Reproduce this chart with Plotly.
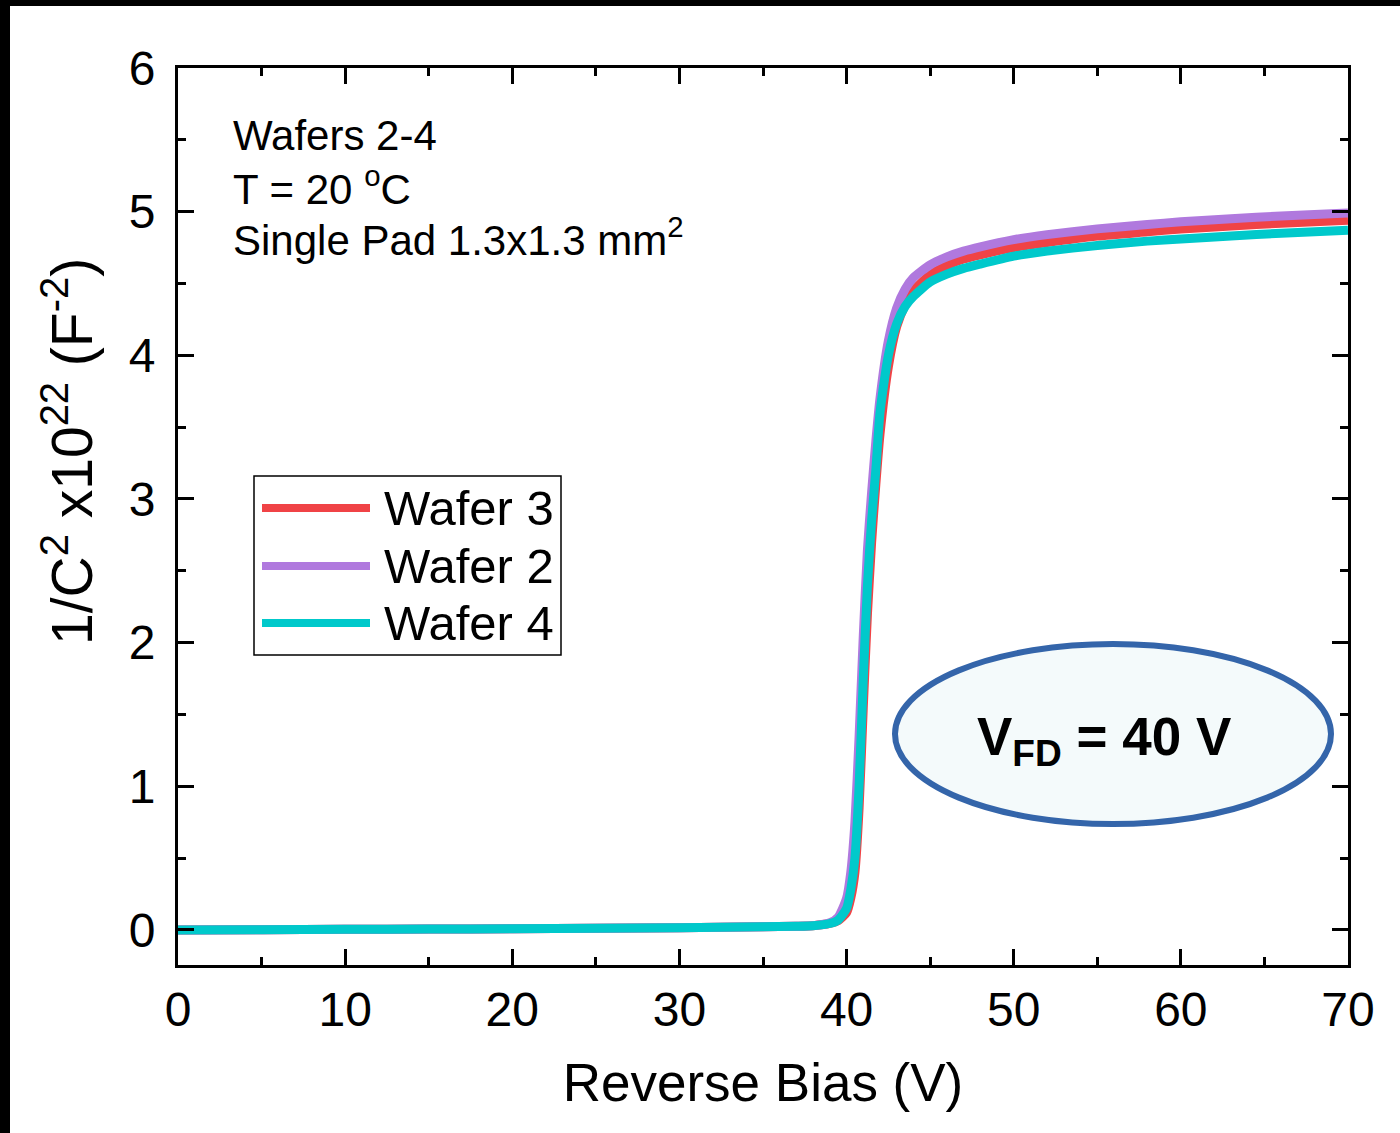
import plotly.graph_objects as go

# ---------------- data ----------------
bias_v = [0, 5, 10, 15, 20, 25, 30, 35, 37, 38, 39, 39.5, 40, 40.25, 40.5, 40.75,
          41, 41.25, 41.5, 41.75, 42, 42.5, 43, 43.5, 44, 45, 46, 47, 48, 50, 52,
          55, 58, 60, 63, 66, 70]

wafer3 = [0.0, 0.002, 0.004, 0.006, 0.009, 0.012, 0.016, 0.022, 0.026, 0.03, 0.045,
          0.065, 0.12, 0.22, 0.40, 0.85, 1.55, 2.2, 2.7, 3.1, 3.45, 3.92, 4.2, 4.35,
          4.45, 4.56, 4.625, 4.67, 4.70, 4.75, 4.785, 4.83, 4.86, 4.88, 4.90, 4.92, 4.94]

wafer2 = [0.0, 0.002, 0.004, 0.006, 0.009, 0.012, 0.016, 0.022, 0.026, 0.03, 0.05,
          0.09, 0.22, 0.40, 0.75, 1.35, 2.05, 2.65, 3.05, 3.4, 3.7, 4.1, 4.33, 4.46,
          4.54, 4.63, 4.685, 4.725, 4.755, 4.805, 4.84, 4.88, 4.91, 4.93, 4.95, 4.97, 4.99]

wafer4 = [0.0, 0.002, 0.004, 0.006, 0.009, 0.012, 0.016, 0.022, 0.026, 0.03, 0.045,
          0.07, 0.15, 0.28, 0.50, 1.0, 1.75, 2.4, 2.85, 3.2, 3.6, 4.0, 4.22, 4.34,
          4.41, 4.51, 4.565, 4.605, 4.635, 4.69, 4.725, 4.765, 4.795, 4.81, 4.83, 4.85, 4.87]

series_names = ["Wafer 3", "Wafer 2", "Wafer 4"]
series_values = [wafer3, wafer2, wafer4]
series_colors = ["#F04346", "#B079DE", "#00C9CB"]

x_tick_vals = [0, 10, 20, 30, 40, 50, 60, 70]
y_tick_vals = [0, 1, 2, 3, 4, 5, 6]

FONT = "Liberation Sans, Arial, sans-serif"

# ---------------- figure ----------------
W, H = 1400, 1133
L, R, T, B = 178, 52, 68, 168
PW, PH = W - L - R, H - T - B


def px(xp):
    return (xp - L) / PW


def py(yp):
    return (H - B - yp) / PH


fig = go.Figure()
for name, vals, col in zip(series_names, series_values, series_colors):
    fig.add_trace(go.Scatter(x=bias_v, y=vals, mode="lines", name=name,
                             line=dict(color=col, width=9, shape="spline", smoothing=0.6),
                             showlegend=False))

axis_common = dict(
    showline=True, linecolor="black", linewidth=3, mirror="allticks",
    ticks="inside", ticklen=16, tickwidth=3, tickcolor="black",
    showgrid=False, zeroline=False,
    tickfont=dict(family=FONT, size=48, color="black"),
)

fig.update_xaxes(range=[0, 70], tickvals=x_tick_vals,
                 minor=dict(dtick=5, ticks="inside", ticklen=8, tickwidth=3, tickcolor="black"),
                 ticklabelstandoff=0,
                 title=dict(text="Reverse Bias (V)", font=dict(family=FONT, size=53, color="black"),
                            standoff=30),
                 **axis_common)
fig.update_yaxes(range=[-0.244, 6], tickvals=y_tick_vals,
                 minor=dict(dtick=0.5, ticks="inside", ticklen=8, tickwidth=3, tickcolor="black"),
                 ticklabelstandoff=10,
                 **axis_common)

shapes = []
annotations = []

# Y-axis title
annotations.append(dict(xref="paper", yref="paper", x=px(68), y=py(452),
                        text="1/C<sup>2</sup> x10<sup>22</sup> (F<sup>-2</sup>)",
                        textangle=-90, showarrow=False, xanchor="center", yanchor="middle",
                        font=dict(family=FONT, size=57, color="black")))

# Info text
for txt, yc in [("Wafers 2-4", 135), ("T = 20 <sup>o</sup>C", 186),
                ("Single Pad 1.3x1.3 mm<sup>2</sup>", 237)]:
    annotations.append(dict(xref="paper", yref="paper", x=px(231), y=py(yc), text=txt,
                            showarrow=False, xanchor="left", yanchor="middle",
                            font=dict(family=FONT, size=42, color="black")))

# Manual legend
shapes.append(dict(type="rect", xref="paper", yref="paper",
                   x0=px(254), x1=px(561), y0=py(655), y1=py(476),
                   line=dict(color="black", width=1.5), fillcolor="white", layer="above"))
for name, col, yc in zip(series_names, series_colors, [508, 566, 623]):
    shapes.append(dict(type="line", xref="paper", yref="paper",
                       x0=px(262), x1=px(370), y0=py(yc), y1=py(yc),
                       line=dict(color=col, width=8), layer="above"))
    annotations.append(dict(xref="paper", yref="paper", x=px(382), y=py(yc), text=name,
                            showarrow=False, xanchor="left", yanchor="middle",
                            font=dict(family=FONT, size=49, color="black")))

# Ellipse with V_FD
shapes.append(dict(type="circle", xref="paper", yref="paper",
                   x0=px(895), x1=px(1331), y0=py(824), y1=py(644),
                   line=dict(color="#3465AA", width=6), fillcolor="#F4FAFB", layer="above"))
annotations.append(dict(xref="paper", yref="paper", x=px(1104), y=py(740),
                        text="<b>V<sub>FD</sub> = 40 V</b>",
                        showarrow=False, xanchor="center", yanchor="middle",
                        font=dict(family=FONT, size=53, color="black")))

# Black frame strips at top and left edge of the image
shapes.append(dict(type="rect", xref="paper", yref="paper",
                   x0=px(0), x1=px(W), y0=py(6), y1=py(-2),
                   line=dict(width=0), fillcolor="black", layer="above"))
shapes.append(dict(type="rect", xref="paper", yref="paper",
                   x0=px(-2), x1=px(10), y0=py(H + 2), y1=py(0),
                   line=dict(width=0), fillcolor="black", layer="above"))

fig.update_layout(width=W, height=H, margin=dict(l=L, r=R, t=T, b=B),
                  paper_bgcolor="white", plot_bgcolor="white",
                  shapes=shapes, annotations=annotations,
                  font=dict(family=FONT, color="black"))

fig.write_html("out.html")
